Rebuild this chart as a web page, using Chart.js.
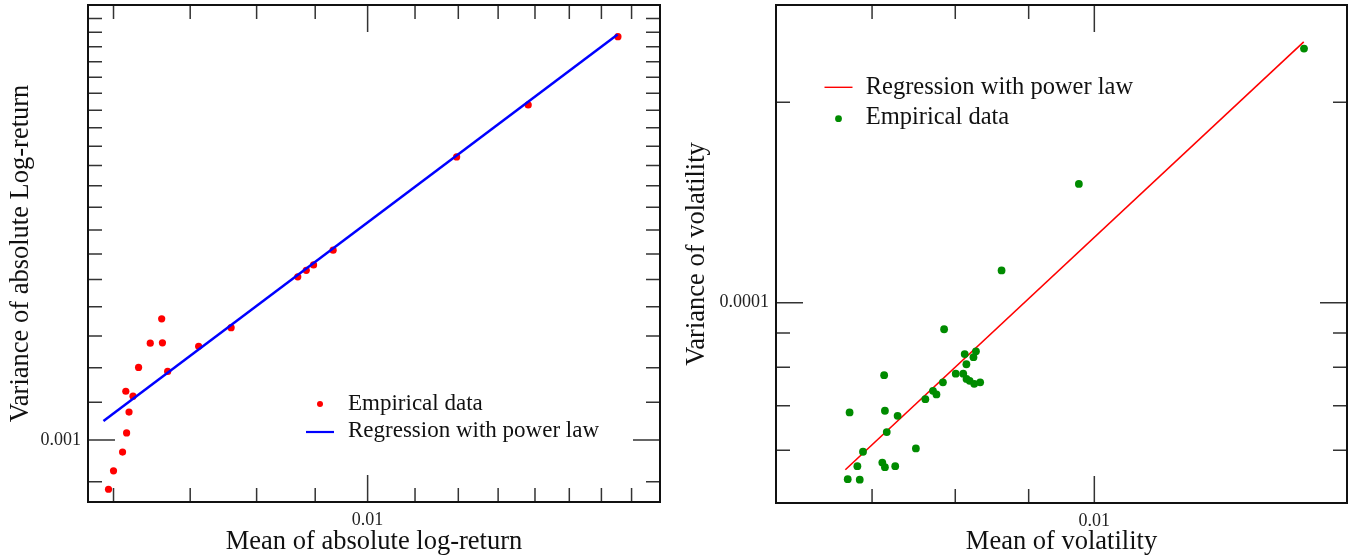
<!DOCTYPE html>
<html lang="en">
<head>
    <meta charset="UTF-8">
    <title>Power law regression of mean vs variance</title>
    <script src="https://cdn.jsdelivr.net/npm/chart.js"></script>
    <style>
        body { margin: 0; background: #fff; }
        .row { display: flex; width: 1352px; height: 558px; }
        .panel { width: 676px; height: 558px; }
    </style>
</head>
<body>
    <div class="row">
        <div class="panel"><canvas id="leftChart" width="676" height="558"></canvas></div>
        <div class="panel"><canvas id="rightChart" width="676" height="558"></canvas></div>
    </div>

    <script>
        // left panel: absolute log-return
        const leftMean = [0.00594, 0.00600, 0.00611, 0.00616, 0.00619, 0.00615, 0.00624, 0.00631, 0.00646, 0.00661, 0.00662,
                          0.00669, 0.00712, 0.00760, 0.00869, 0.00884, 0.00897, 0.00933, 0.01196, 0.01381, 0.01654];
        const leftVar = [0.000883, 0.000925, 0.000970, 0.001018, 0.001073, 0.001131, 0.001117, 0.001201, 0.001277, 0.001358, 0.001278,
                         0.001189, 0.001267, 0.001328, 0.001510, 0.001535, 0.001556, 0.001615, 0.002044, 0.002331, 0.002769];
        const leftFitX = [0.00588, 0.01653];
        const leftFitY = [0.001049, 0.002785];
        const leftXTicks = [0.006, 0.007, 0.008, 0.009, 0.01, 0.011, 0.012, 0.013, 0.014, 0.015, 0.016, 0.017];
        const leftYTicks = [0.0009, 0.001, 0.0011, 0.0012, 0.0013, 0.0014, 0.0015, 0.0016, 0.0017, 0.0018, 0.0019,
                            0.002, 0.0021, 0.0022, 0.0023, 0.0024, 0.0025, 0.0026, 0.0027, 0.0028, 0.0029];
        const leftXLabels = [0.01];
        const leftYLabels = [0.001];

        // right panel: volatility
        const rightMean = [0.006732, 0.006863, 0.006837, 0.006899, 0.006752, 0.007137, 0.007146, 0.007293, 0.007167, 0.007116, 0.007146,
                           0.007265, 0.007510, 0.007625, 0.007719, 0.007762, 0.007843, 0.007858, 0.008006, 0.008103, 0.008146,
                           0.008187, 0.008247, 0.008326, 0.008122, 0.008144, 0.008237, 0.008270, 0.008617, 0.009755, 0.01400];
        const rightVar = [0.0000543, 0.0000542, 0.0000568, 0.0000597, 0.0000684, 0.0000778, 0.0000688, 0.0000676, 0.0000639, 0.0000575, 0.0000566,
                          0.0000568, 0.0000604, 0.0000716, 0.0000737, 0.0000728, 0.0000759, 0.0000912, 0.0000782, 0.0000782, 0.0000768,
                          0.0000763, 0.0000755, 0.0000759, 0.0000837, 0.0000808, 0.0000828, 0.0000845, 0.0001118, 0.0001508, 0.0002408];
        const rightFitX = [0.006706, 0.013994];
        const rightFitY = [0.0000561, 0.0002464];
        const rightXTicks = [0.007, 0.008, 0.009, 0.01];
        const rightYTicks = [0.00006, 0.00007, 0.00008, 0.00009, 0.0001, 0.0002];
        const rightXLabels = [0.01];
        const rightYLabels = [0.0001];

        const SERIF = '"Liberation Serif", "Times New Roman", serif';

        const isIn = (v, list) => list.some(m => Math.abs(m - v) < m * 1e-6);
        const toPoints = (xs, ys) => xs.map((x, i) => ({ x: x, y: ys[i] }));

        // frame + inward ticks on all four sides, plus a hand-placed legend
        function decor(cfg) {
            return {
                id: 'decor',
                beforeDatasetsDraw(chart) {
                    const { ctx, chartArea: a, scales } = chart;
                    ctx.save();
                    ctx.strokeStyle = '#333';
                    ctx.lineWidth = 1.5;
                    scales.x.ticks.forEach(t => {
                        const px = scales.x.getPixelForValue(t.value);
                        const len = isIn(t.value, cfg.xLabels) ? 27 : 14;
                        ctx.beginPath();
                        ctx.moveTo(px, a.bottom); ctx.lineTo(px, a.bottom - len);
                        ctx.moveTo(px, a.top); ctx.lineTo(px, a.top + len);
                        ctx.stroke();
                    });
                    scales.y.ticks.forEach(t => {
                        const py = scales.y.getPixelForValue(t.value);
                        const len = isIn(t.value, cfg.yLabels) ? 27 : 14;
                        ctx.beginPath();
                        ctx.moveTo(a.left, py); ctx.lineTo(a.left + len, py);
                        ctx.moveTo(a.right, py); ctx.lineTo(a.right - len, py);
                        ctx.stroke();
                    });
                    ctx.strokeStyle = '#111';
                    ctx.lineWidth = 2;
                    ctx.strokeRect(a.left, a.top, a.right - a.left, a.bottom - a.top);
                    ctx.restore();
                },
                afterDatasetsDraw(chart) {
                    const ctx = chart.ctx;
                    ctx.save();
                    ctx.font = cfg.legendFont + 'px ' + SERIF;
                    ctx.textBaseline = 'alphabetic';
                    cfg.legend.forEach(item => {
                        ctx.fillStyle = item.color;
                        ctx.strokeStyle = item.color;
                        if (item.kind === 'dot') {
                            ctx.beginPath();
                            ctx.arc(cfg.symX, item.symY, cfg.dotR, 0, Math.PI * 2);
                            ctx.fill();
                        } else {
                            ctx.lineWidth = item.width;
                            ctx.beginPath();
                            ctx.moveTo(cfg.symX - 14, item.symY);
                            ctx.lineTo(cfg.symX + 14, item.symY);
                            ctx.stroke();
                        }
                        ctx.fillStyle = '#111';
                        ctx.fillText(item.text, cfg.textX, item.baseY);
                    });
                    ctx.restore();
                }
            };
        }

        function logAxis(min, max, ticks, labels, title, fitSize, horizontal, titlePad) {
            return {
                type: 'logarithmic',
                min: min,
                max: max,
                grid: { display: false, drawTicks: false },
                border: { display: false },
                afterBuildTicks: s => { s.ticks = ticks.map(v => ({ value: v })); },
                afterFit: s => {
                    if (horizontal) s.height = fitSize; else s.width = fitSize;
                    s.paddingTop = 0; s.paddingBottom = 0; s.paddingLeft = 0; s.paddingRight = 0;
                },
                ticks: {
                    autoSkip: false,
                    maxRotation: 0,
                    padding: 7,
                    color: '#222',
                    font: { family: SERIF, size: 18 },
                    callback: v => isIn(v, labels) ? String(v) : ''
                },
                title: {
                    display: true,
                    text: title,
                    color: '#111',
                    font: { family: SERIF, size: 26.5 },
                    padding: titlePad
                }
            };
        }

        new Chart(document.getElementById('leftChart'), {
            type: 'scatter',
            data: {
                datasets: [
                    { label: 'Empirical data', data: toPoints(leftMean, leftVar), order: 1,
                      pointRadius: 3.6, pointBackgroundColor: '#ff0000', pointBorderWidth: 0 },
                    { label: 'Regression with power law', data: toPoints(leftFitX, leftFitY), order: 0, showLine: true,
                      borderColor: '#0000ff', borderWidth: 2.5, pointRadius: 0 }
                ]
            },
            options: {
                responsive: false,
                animation: false,
                layout: { padding: { top: 5, right: 16, left: 0, bottom: 0 } },
                plugins: { legend: { display: false }, tooltip: { enabled: false } },
                scales: {
                    x: logAxis(0.0057, 0.018, leftXTicks, leftXLabels, 'Mean of absolute log-return', 56, true, { top: 0, bottom: 0 }),
                    y: logAxis(0.000855, 0.003, leftYTicks, leftYLabels, 'Variance of absolute Log-return', 88, false, { top: 5, bottom: 0 })
                }
            },
            plugins: [decor({
                xLabels: leftXLabels, yLabels: leftYLabels,
                legendFont: 23, symX: 320, textX: 348, dotR: 3,
                legend: [
                    { kind: 'dot', color: '#ff0000', symY: 404, baseY: 409.5, text: 'Empirical data' },
                    { kind: 'line', color: '#0000ff', width: 2.2, symY: 432, baseY: 437, text: 'Regression with power law' }
                ]
            })]
        });

        new Chart(document.getElementById('rightChart'), {
            type: 'scatter',
            data: {
                datasets: [
                    { label: 'Regression with power law', data: toPoints(rightFitX, rightFitY), order: 1, showLine: true,
                      borderColor: '#ff0000', borderWidth: 1.6, pointRadius: 0 },
                    { label: 'Empirical data', data: toPoints(rightMean, rightVar), order: 0,
                      pointRadius: 3.9, pointBackgroundColor: '#008b00', pointBorderWidth: 0 }
                ]
            },
            options: {
                responsive: false,
                animation: false,
                layout: { padding: { top: 5, right: 5, left: 0, bottom: 0 } },
                plugins: { legend: { display: false }, tooltip: { enabled: false } },
                scales: {
                    x: logAxis(0.006, 0.015, rightXTicks, rightXLabels, 'Mean of volatility', 55, true, { top: 0, bottom: 0 }),
                    y: logAxis(0.00005, 0.00028, rightYTicks, rightYLabels, 'Variance of volatility', 100, false, { top: 5, bottom: 0 })
                }
            },
            plugins: [decor({
                xLabels: rightXLabels, yLabels: rightYLabels,
                legendFont: 24.5, symX: 162.5, textX: 189.7, dotR: 3.4,
                legend: [
                    { kind: 'line', color: '#ff0000', width: 1.4, symY: 87.3, baseY: 94.3, text: 'Regression with power law' },
                    { kind: 'dot', color: '#008b00', symY: 118.7, baseY: 124.3, text: 'Empirical data' }
                ]
            })]
        });
    </script>
</body>
</html>
